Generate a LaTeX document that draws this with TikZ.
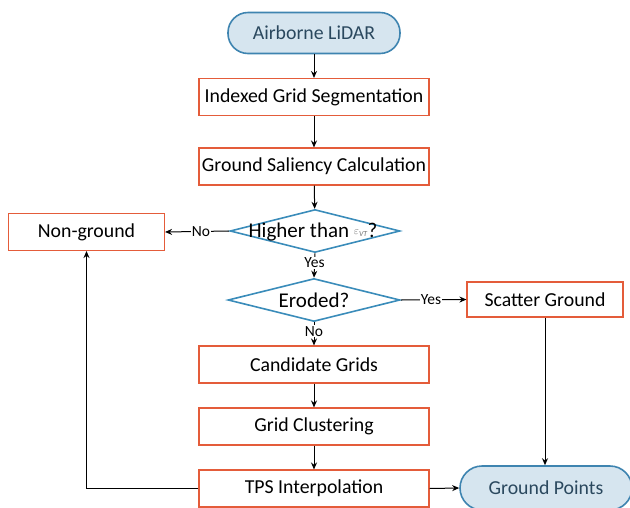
\documentclass[tikz,border=0pt]{standalone}
\usepackage{fontspec}
\setmainfont{Carlito}
\usetikzlibrary{shapes.geometric,arrows.meta}
\definecolor{boxred}{RGB}{228,92,58}
\definecolor{diablue}{RGB}{58,140,186}
\definecolor{termfill}{RGB}{214,229,239}
\definecolor{termline}{RGB}{62,132,176}
\definecolor{termtext}{RGB}{42,72,94}
\tikzset{
  procbox/.style={draw=boxred, line width=1.1pt, fill=white, rectangle,
    minimum width=230pt, minimum height=37pt, inner sep=0pt,
    font=\fontsize{19.8}{23}\selectfont},
  sidebox/.style={procbox, minimum width=156pt},
  terminal/.style={draw=termline, line width=1.6pt, fill=termfill,
    rectangle, rounded corners=20pt, minimum width=172pt, minimum height=41pt,
    inner sep=0pt, text=termtext, font=\fontsize{19.8}{23}\selectfont},
  decision/.style={draw=diablue, line width=1.6pt, fill=white, diamond,
    aspect=4, minimum width=171pt, minimum height=43pt, inner sep=0pt,
    font=\fontsize{21}{24}\selectfont},
  flow/.style={draw=black, line width=1pt, -{Stealth[length=7pt,width=6pt]}},
  lbl/.style={fill=white, inner sep=1pt, font=\fontsize{15.5}{17}\selectfont}
}
\begin{document}
\begin{tikzpicture}[x=1pt,y=-1pt]
  \useasboundingbox (0,0) rectangle (630,507);
  \clip (0,0) rectangle (630,507);

  \node[terminal] (lidar) at (314,33) {Airborne LiDAR};
  \node[procbox] (seg) at (314,97) {Indexed Grid Segmentation};
  \node[procbox] (sal) at (314,166.5) {Ground Saliency Calculation};
  \node[decision, minimum width=170pt] (high) at (315,231) {};
  \node[font=\fontsize{21}{24}\selectfont] (hightxt) at (313,232)
    {Higher than \raisebox{3pt}{\color{black!55}\fontsize{11}{11}\selectfont$\varepsilon_{\mathit{VT}}$}?};
  \node[sidebox] (ng) at (86.5,232) {Non-ground};
  \node[decision, minimum width=172pt] (ero) at (314,300) {Eroded?};
  \node[sidebox, minimum height=35pt] (sg) at (545,299.5) {Scatter Ground};
  \node[procbox] (cand) at (314,364.5) {Candidate Grids};
  \node[procbox] (clu) at (314,426.5) {Grid Clustering};
  \node[procbox] (tps) at (314,488.5) {TPS Interpolation};
  \node[terminal, minimum height=44pt, rounded corners=22pt] (gp) at (546,488) {Ground Points};

  \draw[flow] (lidar) -- (seg);
  \draw[flow] (seg) -- (sal);
  \draw[flow] (sal) -- (high);
  \draw[flow] (high.west) -- node[lbl, pos=0.44] {No} (ng.east);
  \draw[flow] (high.south) -- node[lbl, pos=0.4] {Yes} (ero.north);
  \draw[flow] (ero.east) -- node[lbl, pos=0.46] {Yes} (sg.west);
  \draw[flow] (ero.south) -- node[lbl, pos=0.38] {No} (cand.north);
  \draw[flow] (cand) -- (clu);
  \draw[flow] (clu) -- (tps);
  \draw[flow] (tps.east) -- (gp.west);
  \draw[flow] (sg.south) -- (sg.south |- gp.north);
  \draw[flow] (tps.west) -| (ng.south);
\end{tikzpicture}
\end{document}
